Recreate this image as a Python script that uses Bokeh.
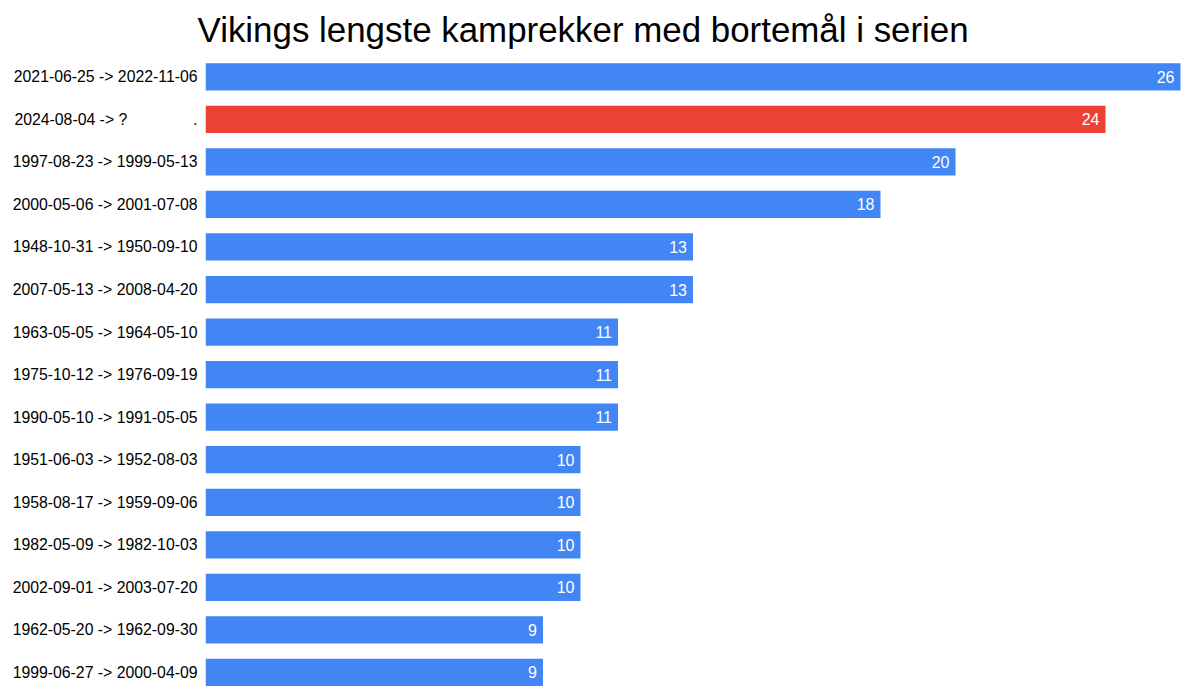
from bokeh.plotting import figure
from bokeh.models import ColumnDataSource, Title, Range1d, FixedTicker
from bokeh.embed import file_html
from bokeh.resources import INLINE
from bokeh.core.properties import value

NB = "\u00a0"
periods = [
    "2021-06-25 -> 2022-11-06",
    "2024-08-04 -> ?" + NB * 15 + ".",
    "1997-08-23 -> 1999-05-13",
    "2000-05-06 -> 2001-07-08",
    "1948-10-31 -> 1950-09-10",
    "2007-05-13 -> 2008-04-20",
    "1963-05-05 -> 1964-05-10",
    "1975-10-12 -> 1976-09-19",
    "1990-05-10 -> 1991-05-05",
    "1951-06-03 -> 1952-08-03",
    "1958-08-17 -> 1959-09-06",
    "1982-05-09 -> 1982-10-03",
    "2002-09-01 -> 2003-07-20",
    "1962-05-20 -> 1962-09-30",
    "1999-06-27 -> 2000-04-09",
]
matches = [26, 24, 20, 18, 13, 13, 11, 11, 11, 10, 10, 10, 10, 9, 9]
ongoing = [False, True] + [False] * 13

BLUE = "#4285F4"
RED = "#EA4335"
colors = [RED if o else BLUE for o in ongoing]
labels = [str(v) for v in matches]
pos = list(range(len(periods)))

src = ColumnDataSource(dict(y=pos, x=matches, c=colors, t=labels))

FONT = "Liberation Sans"

p = figure(
    y_range=Range1d(start=len(periods) - 0.67, end=-0.5),
    x_range=(0, 26.053),
    width=1184, height=688,
    output_backend="svg", toolbar_location=None,
    min_border_left=205, min_border_right=2, min_border_top=0, min_border_bottom=2,
)
p.title = Title(text="Vikings lengste kamprekker med bortemål i serien",
                text_font=FONT, text_font_size="34.9px", text_font_style="normal",
                text_color="#000000", align="left", offset=-8, standoff=14)
p.outline_line_color = None
p.background_fill_color = "white"
p.border_fill_color = "white"

p.hbar(y="y", right="x", left=0, height=0.64, color="c", line_color=None, source=src)
p.text(x="x", y="y", text="t", source=src, text_align="right", text_baseline="middle",
       x_offset=-6, text_color="white", text_font=value(FONT), text_font_size="16px")

p.xaxis.visible = False
p.xgrid.visible = False
p.ygrid.visible = False
ax = p.yaxis[0]
ax.ticker = FixedTicker(ticks=pos)
ax.major_label_overrides = {i: s for i, s in zip(pos, periods)}
ax.axis_line_color = None
ax.major_tick_line_color = None
ax.minor_tick_line_color = None
ax.major_tick_out = 0
ax.major_tick_in = 0
ax.minor_tick_out = 0
ax.minor_tick_in = 0
ax.major_label_text_font = FONT
ax.major_label_text_font_size = "15.8px"
ax.major_label_text_color = "#000000"
ax.major_label_standoff = 8

open("out.html", "w").write(file_html(p, INLINE))
